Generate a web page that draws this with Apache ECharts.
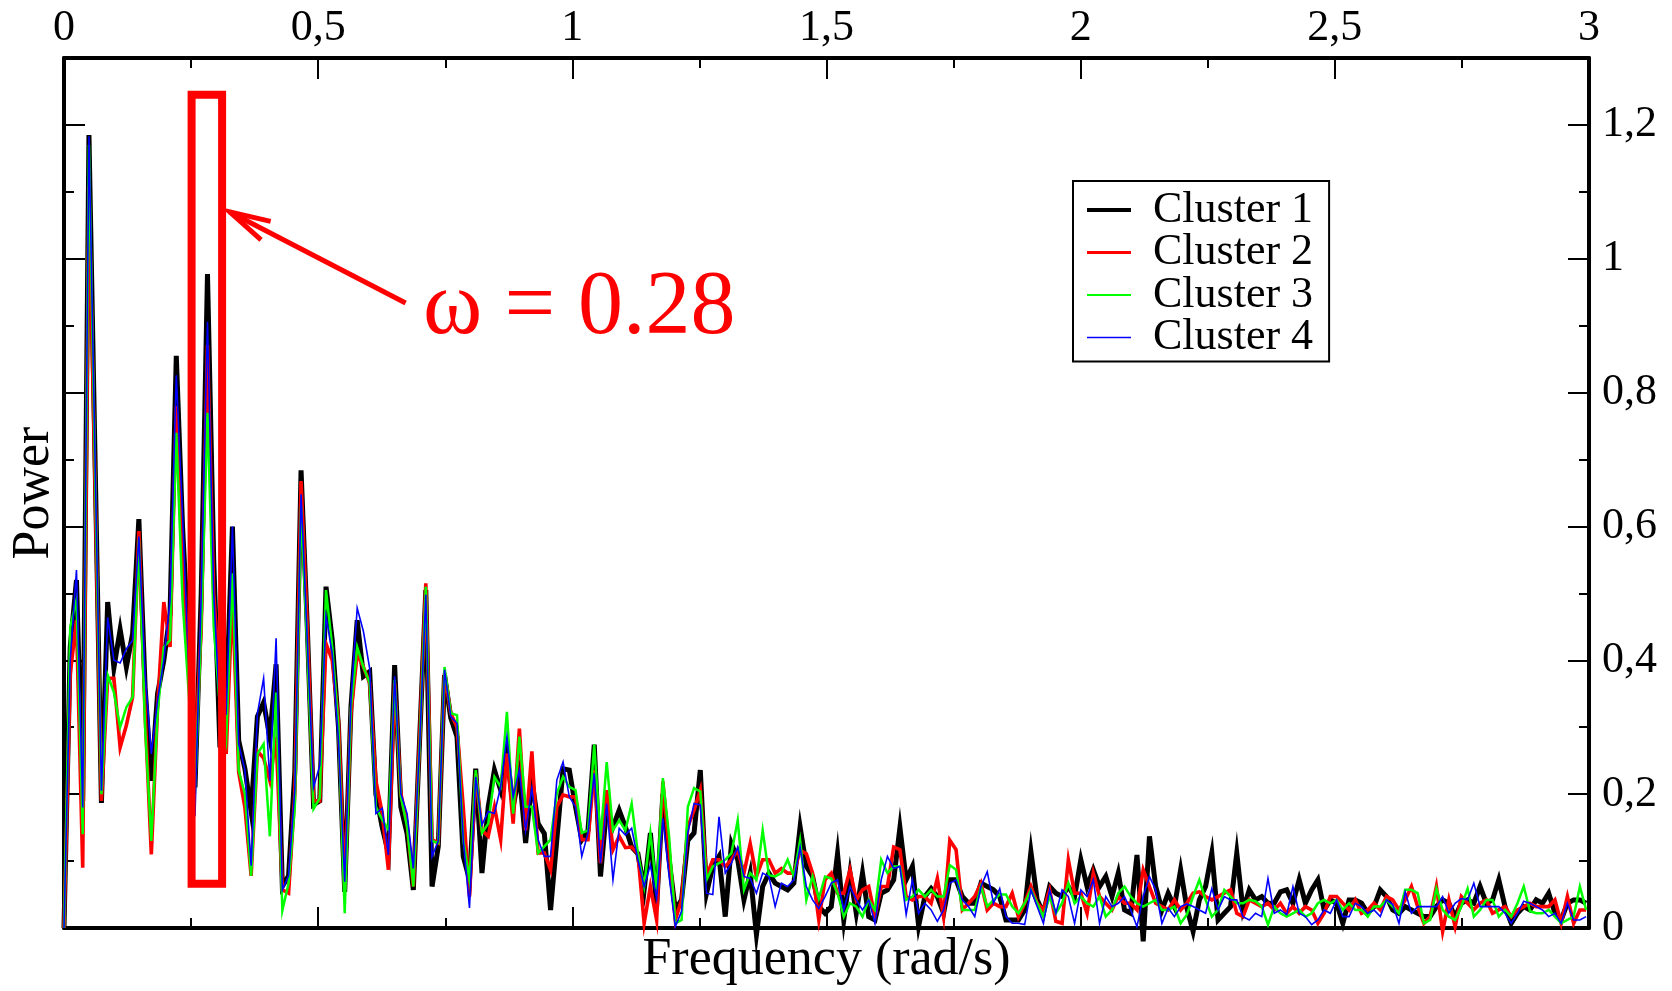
<!DOCTYPE html>
<html>
<head>
<meta charset="utf-8">
<script src="https://cdn.jsdelivr.net/npm/echarts@6/dist/echarts.min.js"></script>
<style>
  html, body { margin: 0; padding: 0; background: #fff; }
  #chart { width: 1672px; height: 991px; }
</style>
</head>
<body>
<div id="chart"></div>
<script>
// Power spectra of four clusters, sampled on FFT frequency bins (rad/s).
const FREQ_STEP = 2 * Math.PI / 512;

const SERIES_NAMES = ['Cluster 1', 'Cluster 2', 'Cluster 3', 'Cluster 4'];
const X_TICK_LABELS = ['0', '0,5', '1', '1,5', '2', '2,5', '3'];
const Y_TICK_LABELS = ['0', '0,2', '0,4', '0,6', '0,8', '1', '1,2'];

const cluster1 = [
  0, 0.42, 0.52, 0.19, 1.185, 0.69, 0.187, 0.487, 0.389, 0.446, 0.39, 0.44, 0.611, 0.36, 0.22,
  0.35, 0.40, 0.47, 0.855, 0.60, 0.42, 0.21, 0.50, 0.977, 0.55, 0.27, 0.33, 0.60, 0.28, 0.238,
  0.174, 0.316, 0.337, 0.285, 0.394, 0.062, 0.078, 0.233, 0.684, 0.45, 0.184, 0.19, 0.51, 0.43, 0.30,
  0.054, 0.33, 0.46, 0.376, 0.383, 0.20, 0.151, 0.112, 0.393, 0.181, 0.141, 0.057, 0.28, 0.505, 0.062,
  0.122, 0.378, 0.314, 0.286, 0.107, 0.072, 0.238, 0.082, 0.181, 0.236, 0.206, 0.261, 0.181, 0.231, 0.127,
  0.221, 0.156, 0.141, 0.027, 0.132, 0.238, 0.236, 0.181, 0.132, 0.146, 0.274, 0.077, 0.181, 0.151, 0.176,
  0.151, 0.121, 0.111, 0.057, 0.142, 0.032, 0.20, 0.102, 0.027, 0.042, 0.131, 0.142, 0.236, 0.052, 0.092,
  0.107, 0.017, 0.126, 0.102, 0.042, 0.082, -0.01, 0.062, 0.082, 0.067, 0.062, 0.057, 0.067, 0.151, 0.092,
  0.077, 0.032, 0.022, 0.032, 0.111, 0.012, 0.082, 0.022, 0.082, 0.017, 0.012, 0.052, 0.057, 0.072, 0.15,
  0.072, 0.092, 0.003, 0.047, 0.059, 0.047, 0.022, 0.072, 0.072, 0.047, 0.037, 0.037, 0.067, 0.062, 0.057,
  0.047, 0.012, 0.012, 0.012, 0.027, 0.114, 0.042, 0.022, 0.062, 0.052, 0.047, 0.062, 0.047, 0.102, 0.062,
  0.087, 0.062, 0.077, 0.047, 0.082, 0.027, 0.022, 0.109, -0.02, 0.137, 0.062, 0.027, 0.052, 0.032, 0.087,
  0.03, -0.005, 0.042, 0.062, 0.112, 0.012, 0.022, 0.032, 0.112, 0.027, 0.057, 0.042, 0.047, 0.037, 0.037,
  0.054, 0.057, 0.037, 0.072, 0.037, 0.057, 0.072, 0.027, 0.042, 0.037, 0.007, 0.042, 0.042, 0.037, 0.022,
  0.032, 0.057, 0.047, 0.027, 0.022, 0.032, 0.027, 0.022, 0.017, 0.017, 0.032, 0.042, 0.037, 0.017, 0.037,
  0.042, 0.037, 0.062, 0.037, 0.042, 0.072, 0.032, 0.007, 0.022, 0.032, 0.027, 0.042, 0.037, 0.052, 0.022,
  0.012, 0.037, 0.042, 0.042, 0.037
];

const cluster2 = [
  0, 0.38, 0.46, 0.09, 1.11, 0.65, 0.19, 0.373, 0.373, 0.27, 0.303, 0.345, 0.593, 0.32, 0.11,
  0.33, 0.487, 0.42, 0.78, 0.54, 0.40, 0.25, 0.45, 0.871, 0.50, 0.36, 0.26, 0.50, 0.233, 0.18,
  0.078, 0.264, 0.254, 0.22, 0.285, 0.057, 0.052, 0.20, 0.668, 0.45, 0.19, 0.19, 0.425, 0.40, 0.31,
  0.057, 0.32, 0.41, 0.39, 0.366, 0.22, 0.172, 0.087, 0.366, 0.201, 0.156, 0.062, 0.28, 0.515, 0.132,
  0.127, 0.381, 0.321, 0.30, 0.181, 0.047, 0.231, 0.146, 0.137, 0.181, 0.132, 0.261, 0.156, 0.298, 0.146,
  0.264, 0.112, 0.112, 0.087, 0.181, 0.199, 0.196, 0.196, 0.132, 0.132, 0.236, 0.097, 0.206, 0.117, 0.137,
  0.12, 0.121, 0.111, 0.007, 0.062, 0.012, 0.219, 0.116, 0.012, 0.042, 0.151, 0.176, 0.206, 0.077, 0.102,
  0.102, 0.092, 0.102, 0.116, 0.082, 0.126, 0.077, 0.102, 0.102, 0.082, 0.089, 0.082, 0.082, 0.116, 0.111,
  0.082, 0.012, 0.072, 0.082, 0.052, 0.052, 0.087, 0.042, 0.057, 0.062, 0.017, 0.062, 0.062, 0.121, 0.117,
  0.047, 0.042, 0.047, 0.047, 0.037, 0.074, 0.017, 0.131, 0.117, 0.027, 0.037, 0.047, 0.067, 0.027, 0.037,
  0.032, 0.032, 0.052, 0.017, 0.037, 0.062, 0.037, 0.027, 0.057, 0.01, 0.007, 0.102, 0.052, 0.052, 0.022,
  0.082, 0.047, 0.037, 0.027, 0.047, 0.037, 0.037, 0.027, 0.087, 0.062, 0.037, 0.032, 0.027, 0.042, 0.027,
  0.037, 0.052, 0.054, 0.047, 0.042, 0.047, 0.052, 0.057, 0.022, 0.017, 0.042, 0.037, 0.032, 0.037, 0.027,
  0.037, 0.022, 0.032, 0.022, 0.032, 0.027, 0.007, 0.022, 0.047, 0.047, 0.037, 0.027, 0.042, 0.022, 0.027,
  0.037, 0.027, 0.047, 0.042, 0.027, 0.042, 0.062, 0.032, 0.007, 0.017, 0.062, -0.005, 0.042, 0.002, 0.047,
  0.037, 0.027, 0.037, 0.042, 0.022, 0.027, 0.032, 0.017, 0.027, 0.032, 0.037, 0.032, 0.032, 0.032, 0.042,
  0.007, 0.047, 0.007, 0.027, 0.027
];

const cluster3 = [
  0, 0.45, 0.49, 0.14, 1.17, 0.67, 0.20, 0.378, 0.352, 0.30, 0.33, 0.345, 0.58, 0.30, 0.13,
  0.32, 0.42, 0.43, 0.74, 0.49, 0.35, 0.20, 0.45, 0.77, 0.45, 0.33, 0.28, 0.53, 0.236, 0.20,
  0.078, 0.26, 0.275, 0.137, 0.352, 0.026, 0.067, 0.18, 0.63, 0.42, 0.178, 0.194, 0.505, 0.42, 0.30,
  0.022, 0.33, 0.42, 0.39, 0.366, 0.181, 0.162, 0.147, 0.371, 0.196, 0.151, 0.062, 0.27, 0.51, 0.13,
  0.127, 0.39, 0.321, 0.318, 0.132, 0.072, 0.236, 0.142, 0.156, 0.226, 0.211, 0.323, 0.171, 0.286, 0.181,
  0.181, 0.112, 0.122, 0.132, 0.201, 0.226, 0.211, 0.206, 0.142, 0.146, 0.274, 0.132, 0.248, 0.146, 0.161,
  0.146, 0.186, 0.111, 0.062, 0.142, 0.057, 0.224, 0.137, 0.007, 0.012, 0.181, 0.209, 0.204, 0.072, 0.092,
  0.097, 0.102, 0.112, 0.161, 0.057, 0.082, 0.072, 0.146, 0.079, 0.077, 0.082, 0.102, 0.077, 0.131, 0.042,
  0.077, 0.044, 0.077, 0.074, 0.052, 0.017, 0.037, 0.032, 0.017, 0.042, 0.027, 0.102, 0.082, 0.092, 0.092,
  0.042, 0.047, 0.057, 0.047, 0.057, 0.047, 0.047, 0.094, 0.087, 0.027, 0.027, 0.027, 0.062, 0.032, 0.042,
  0.05, 0.05, 0.032, 0.022, 0.037, 0.057, 0.037, 0.017, 0.047, 0.022, 0.037, 0.067, 0.037, 0.047, 0.037,
  0.032, 0.047, 0.017, 0.027, 0.052, 0.062, 0.047, 0.037, 0.032, 0.037, 0.042, 0.027, 0.027, 0.032, 0.007,
  0.02, 0.047, 0.072, 0.042, 0.017, 0.027, 0.057, 0.047, 0.037, 0.037, 0.042, 0.04, 0.032, 0.005, 0.032,
  0.022, 0.017, 0.022, 0.027, 0.017, 0.022, 0.037, 0.042, 0.037, 0.042, 0.027, 0.037, 0.027, 0.027, 0.017,
  0.032, 0.032, 0.042, 0.032, 0.022, 0.057, 0.057, 0.052, 0.007, 0.012, 0.059, 0.027, 0.017, 0.012, 0.032,
  0.059, 0.017, 0.027, 0.042, 0.042, 0.017, 0.027, 0.017, 0.037, 0.062, 0.025, 0.022, 0.022, 0.027, 0.017,
  0.007, 0.012, 0.017, 0.062, 0.027
];

const cluster4 = [
  0, 0.40, 0.535, 0.18, 1.183, 0.69, 0.205, 0.464, 0.40, 0.396, 0.417, 0.43, 0.585, 0.38, 0.26,
  0.34, 0.40, 0.49, 0.826, 0.617, 0.39, 0.167, 0.50, 0.906, 0.50, 0.32, 0.32, 0.60, 0.275, 0.236,
  0.093, 0.32, 0.373, 0.22, 0.433, 0.057, 0.078, 0.207, 0.648, 0.43, 0.21, 0.243, 0.466, 0.41, 0.28,
  0.069, 0.34, 0.478, 0.443, 0.388, 0.171, 0.179, 0.109, 0.376, 0.201, 0.171, 0.089, 0.27, 0.498, 0.107,
  0.13, 0.386, 0.316, 0.306, 0.132, 0.03, 0.226, 0.154, 0.174, 0.171, 0.211, 0.286, 0.196, 0.236, 0.146,
  0.209, 0.132, 0.107, 0.107, 0.221, 0.248, 0.196, 0.181, 0.107, 0.142, 0.231, 0.097, 0.186, 0.072, 0.149,
  0.139, 0.149, 0.102, 0.062, 0.094, 0.044, 0.164, 0.077, 0.002, 0.025, 0.142, 0.186, 0.184, 0.052, 0.05,
  0.166, 0.082, 0.097, 0.121, 0.077, 0.074, 0.052, 0.082, 0.077, 0.032, 0.067, 0.062, 0.072, 0.121, 0.062,
  0.042, 0.029, 0.047, 0.067, 0.072, 0.027, 0.062, 0.042, 0.027, 0.042, 0.007, 0.072, 0.107, 0.089, 0.092,
  0.02, 0.072, 0.022, 0.037, 0.027, 0.01, 0.027, 0.067, 0.072, 0.042, 0.032, 0.017, 0.062, 0.084, 0.037,
  0.059, 0.017, 0.007, 0.007, 0.005, 0.057, 0.032, 0.007, 0.057, 0.022, 0.057, 0.047, 0.007, 0.057, 0.047,
  0.072, 0.007, 0.047, 0.032, 0.037, 0.047, 0.027, 0.002, 0.047, 0.077, 0.057, 0.007, 0.03, 0.017, 0.032,
  0.036, 0.032, 0.027, 0.022, 0.059, 0.027, 0.047, 0.042, 0.042, 0.017, 0.012, 0.022, 0.017, 0.074, 0.022,
  0.027, 0.02, 0.062, 0.022, 0.017, 0.005, 0.012, 0.027, 0.022, 0.042, 0.017, 0.017, 0.037, 0.032, 0.022,
  0.027, 0.017, 0.042, 0.035, 0.007, 0.054, 0.022, 0.032, 0.032, 0.032, 0.032, 0.047, 0.022, 0.037, 0.044,
  0.042, 0.067, 0.032, 0.032, 0.032, 0.032, 0.022, 0.007, 0.022, 0.04, 0.037, 0.032, 0.027, 0.017, 0.022,
  0.007, 0.037, 0.012, 0.012, 0.017
];

// Highlighted peak and its callout, in data units (frequency, power).
const PEAK_LABEL = 'ω = 0.28';
const PEAK_BOX = { x0: 0.251, x1: 0.311, y0: 0.066, y1: 1.245 };
const ARROW_TAIL = [0.672, 0.934];
const ARROW_TIP = [0.3260, 1.070];
const LABEL_AT = [0.706, 0.925];

const FONT = '"Liberation Serif", "Times New Roman", Times, serif';

const toPairs = (values) => values.map((v, i) => [i * FREQ_STEP, v]);

function xAxisDef(position, showLabels, extra) {
  return Object.assign({
    type: 'value', position, min: 0, max: 3, interval: 0.5,
    axisLine: { show: true, onZero: false, lineStyle: { color: '#000', width: 4 } },
    axisTick: { show: true, inside: true, length: 21, lineStyle: { color: '#000', width: 2 } },
    minorTick: { show: true, splitNumber: 2, length: 10, lineStyle: { color: '#000', width: 2 } },
    splitLine: { show: false }, minorSplitLine: { show: false },
    axisLabel: {
      show: showLabels, margin: 8, fontFamily: FONT, fontSize: 44, color: '#000',
      formatter: (v) => X_TICK_LABELS[Math.round(v / 0.5)] ?? ''
    }
  }, extra || {});
}

function yAxisDef(position, interval, tickLen, showLine, showLabels, extra) {
  return Object.assign({
    type: 'value', position, min: 0, max: 1.3, interval,
    axisLine: { show: showLine, onZero: false, lineStyle: { color: '#000', width: 4 } },
    axisTick: { show: true, inside: true, length: tickLen, lineStyle: { color: '#000', width: 2 } },
    splitLine: { show: false },
    axisLabel: {
      show: showLabels, margin: 13, fontFamily: FONT, fontSize: 44, color: '#000',
      showMaxLabel: false,
      formatter: (v) => Y_TICK_LABELS[Math.round(v / 0.2)] ?? ''
    }
  }, extra || {});
}

const lineSeries = (name, values, color, width) => ({
  name, type: 'line', data: toPairs(values),
  xAxisIndex: 0, yAxisIndex: 0,
  showSymbol: false, symbol: 'none', clip: false, silent: true,
  lineStyle: { color, width, join: 'miter', miterLimit: 10, cap: 'butt' },
  itemStyle: { color },
  emphasis: { disabled: true }
});

const chart = echarts.init(document.getElementById('chart'), null, { renderer: 'canvas' });

chart.setOption({
  animation: false,
  backgroundColor: '#fff',
  textStyle: { fontFamily: FONT, color: '#000' },
  grid: { left: 64, right: 83, top: 58, bottom: 63, containLabel: false },
  xAxis: [
    xAxisDef('bottom', false, {
      name: 'Frequency (rad/s)', nameLocation: 'middle', nameGap: 6,
      nameTextStyle: { fontFamily: FONT, fontSize: 52, color: '#000', verticalAlign: 'top' }
    }),
    xAxisDef('top', true)
  ],
  yAxis: [
    yAxisDef('left', 0.2, 21, true, false, {
      name: 'Power', nameLocation: 'middle', nameRotate: 90, nameGap: 4,
      nameTextStyle: { fontFamily: FONT, fontSize: 52, color: '#000' }
    }),
    yAxisDef('left', 0.1, 10, false, false),
    yAxisDef('right', 0.2, 21, true, true),
    yAxisDef('right', 0.1, 10, false, false)
  ],
  legend: {
    show: true, orient: 'vertical', left: 1073, top: 181,
    padding: [7, 16, 2, 14], itemGap: -1.5, itemWidth: 44, itemHeight: 4,
    backgroundColor: '#fff', borderColor: '#000', borderWidth: 2, borderRadius: 0,
    selectedMode: false,
    textStyle: { fontFamily: FONT, fontSize: 44, color: '#000', padding: [0, 0, 0, 17] },
    data: [
      { name: SERIES_NAMES[0], icon: 'path://M0,0h44v4h-44z' },
      { name: SERIES_NAMES[1], icon: 'path://M0,0h44v2.8h-44z' },
      { name: SERIES_NAMES[2], icon: 'path://M0,0h44v2.1h-44z' },
      { name: SERIES_NAMES[3], icon: 'path://M0,0h44v1.4h-44z' }
    ]
  },
  series: [
    lineSeries(SERIES_NAMES[0], cluster1, '#000000', 5),
    lineSeries(SERIES_NAMES[1], cluster2, '#ff0000', 3.6),
    lineSeries(SERIES_NAMES[2], cluster3, '#00ff00', 2.5),
    lineSeries(SERIES_NAMES[3], cluster4, '#0000ff', 1.6)
  ]
});

// Callout: box around the peak, arrow and label, placed through the axes' scales.
const toPx = (pt) => chart.convertToPixel({ xAxisIndex: 0, yAxisIndex: 0 }, pt);
const boxTL = toPx([PEAK_BOX.x0, PEAK_BOX.y1]);
const boxBR = toPx([PEAK_BOX.x1, PEAK_BOX.y0]);
const tail = toPx(ARROW_TAIL);
const tip = toPx(ARROW_TIP);
const labelPos = toPx(LABEL_AT);

const HEAD_LEN = 42, HEAD_HALF_ANGLE = 14.4 * Math.PI / 180;
const shaftAngle = Math.atan2(tail[1] - tip[1], tail[0] - tip[0]);
const headA = [tip[0] + HEAD_LEN * Math.cos(shaftAngle - HEAD_HALF_ANGLE), tip[1] + HEAD_LEN * Math.sin(shaftAngle - HEAD_HALF_ANGLE)];
const headB = [tip[0] + HEAD_LEN * Math.cos(shaftAngle + HEAD_HALF_ANGLE), tip[1] + HEAD_LEN * Math.sin(shaftAngle + HEAD_HALF_ANGLE)];

chart.setOption({
  graphic: [
    {
      type: 'rect', z: 100, silent: true,
      shape: { x: boxTL[0], y: boxTL[1], width: boxBR[0] - boxTL[0], height: boxBR[1] - boxTL[1] },
      style: { fill: 'none', stroke: '#ff0000', lineWidth: 8, lineJoin: 'miter' }
    },
    {
      type: 'line', z: 100, silent: true,
      shape: { x1: tail[0], y1: tail[1], x2: tip[0], y2: tip[1] },
      style: { stroke: '#ff0000', lineWidth: 5 }
    },
    {
      type: 'polyline', z: 100, silent: true,
      shape: { points: [headA, tip, headB] },
      style: { stroke: '#ff0000', lineWidth: 5, fill: 'none', lineJoin: 'miter' }
    },
    {
      type: 'text', z: 100, silent: true,
      x: labelPos[0], y: labelPos[1],
      style: {
        text: PEAK_LABEL, fill: '#ff0000',
        font: '90px "Liberation Serif", "Times New Roman", Times, serif',
        align: 'left', verticalAlign: 'middle'
      }
    }
  ]
});
</script>
</body>
</html>
